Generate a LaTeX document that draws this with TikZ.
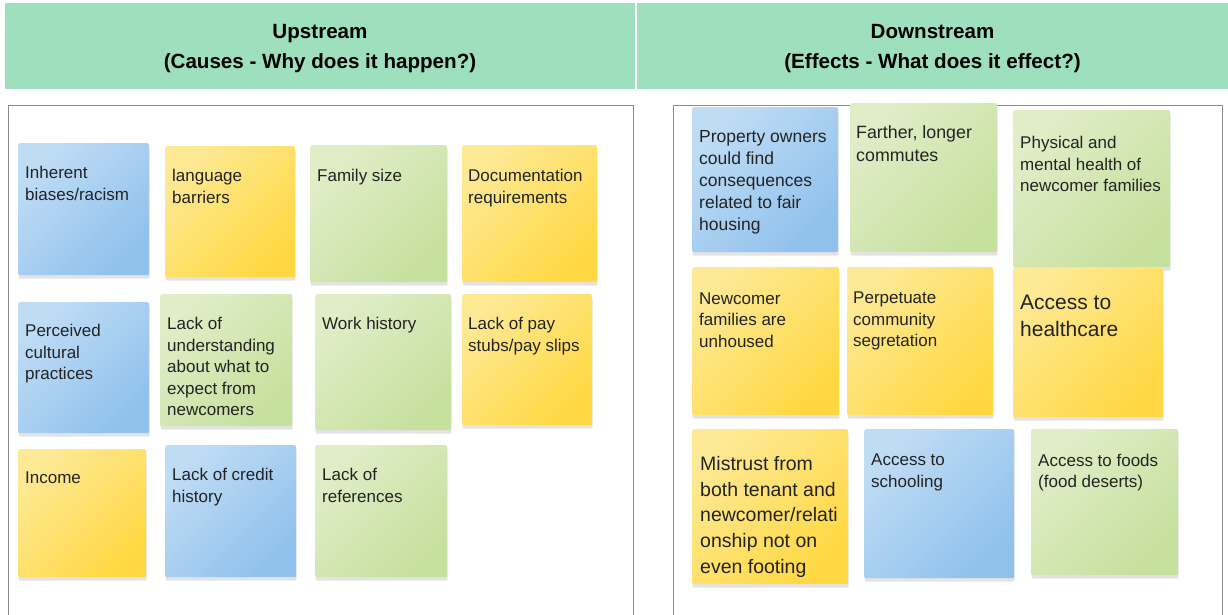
\documentclass[tikz,border=0pt]{standalone}
\usepackage{fontspec}
\setmainfont{Liberation Sans}
\usepackage{tikz}
\usetikzlibrary{positioning,shadows}
\definecolor{hdrc}{HTML}{9EDFBD}
\definecolor{framec}{HTML}{8A8A8A}
\definecolor{inkc}{HTML}{232323}
\definecolor{bluea}{HTML}{BFDCF5}
\definecolor{blueb}{HTML}{90C1EC}
\definecolor{ylwa}{HTML}{FEE994}
\definecolor{ylwb}{HTML}{FFD843}
\definecolor{grna}{HTML}{E0EDC7}
\definecolor{grnb}{HTML}{C6E09E}

\begin{document}
\begin{tikzpicture}[
  x=1pt, y=-1pt,
  hdr/.style ={fill=hdrc, inner sep=0pt, minimum height=86pt},
  hdt/.style ={align=center, inner sep=0pt, text=black,
               font=\bfseries\fontsize{20.6}{29.5}\selectfont},
  frm/.style ={draw=framec, line width=1pt},
  note/.style={anchor=north west, inner sep=0pt, rounded corners=2pt,
               drop shadow={shadow xshift=0.5pt, shadow yshift=-3.5pt, opacity=.22}},
  nb/.style  ={note, top color=bluea, bottom color=blueb, shading angle=45},
  ny/.style  ={note, top color=ylwa, bottom color=ylwb, shading angle=45},
  ng/.style  ={note, top color=grna, bottom color=grnb, shading angle=45},
  tx/.style  ={align=left, inner sep=0pt, text=inkc,
               font=\fontsize{17}{21.5}\selectfont}
]
\useasboundingbox (0,0) rectangle (1228,615);

% ---------- headers ----------
\node[hdr, minimum width=630pt] (up)   at (320,46)    {};
\node[hdr, minimum width=591pt] (down) at (932.5,46)  {};
\node[hdt] (up-t)   at ([yshift=-2.5pt]up.center)   {Upstream\\(Causes - Why does it happen?)};
\node[hdt] (down-t) at ([yshift=-2.5pt]down.center) {Downstream\\(Effects - What does it effect?)};

% ---------- frames ----------
\draw[frm] (8,630) -- (8,106) -- (633,106) -- (633,630);
\draw[frm] (673,630) -- (673,106) -- (1222,106) -- (1222,630);

% ---------- causes ----------
\node[nb, minimum width=131pt, minimum height=132pt] (inh)  at (18,143)  {};
\node[ny, minimum width=130pt, minimum height=131pt] (lang) at (165,146) {};
\node[ng, minimum width=137pt, minimum height=137pt] (fam)  at (310,145) {};
\node[ny, minimum width=135pt, minimum height=137pt] (doc)  at (462,145) {};
\node[tx, below right=23pt and 7pt of inh.north west]  (inh-t)  {Inherent\\biases/racism};
\node[tx, below right=23pt and 7pt of lang.north west] (lang-t) {language\\barriers};
\node[tx, below right=24pt and 7pt of fam.north west]  (fam-t)  {Family size};
\node[tx, below right=24pt and 6pt of doc.north west]  (doc-t)  {Documentation\\requirements};

\node[nb, minimum width=131pt, minimum height=131pt] (perc) at (18,302)  {};
\node[ng, minimum width=132pt, minimum height=132pt] (lku)  at (160,294) {};
\node[ng, minimum width=136pt, minimum height=136pt] (work) at (315,294) {};
\node[ny, minimum width=130pt, minimum height=131pt] (pay)  at (462,294) {};
\node[tx, below right=22pt and 7pt of perc.north west] (perc-t) {Perceived\\cultural\\practices};
\node[tx, below right=23pt and 7pt of lku.north west]  (lku-t)  {Lack of\\understanding\\about what to\\expect from\\newcomers};
\node[tx, below right=23pt and 7pt of work.north west] (work-t) {Work history};
\node[tx, below right=23pt and 6pt of pay.north west]  (pay-t)  {Lack of pay\\stubs/pay slips};

\node[ny, minimum width=128pt, minimum height=128pt] (inc)  at (18,449)  {};
\node[nb, minimum width=131pt, minimum height=132pt] (cred) at (165,445) {};
\node[ng, minimum width=132pt, minimum height=132pt] (refs) at (315,445) {};
\node[tx, below right=23pt and 7pt of inc.north west]  (inc-t)  {Income};
\node[tx, below right=23pt and 7pt of cred.north west] (cred-t) {Lack of credit\\history};
\node[tx, below right=23pt and 7pt of refs.north west] (refs-t) {Lack of\\references};

% ---------- effects ----------
\node[nb, minimum width=146pt, minimum height=145pt] (prop) at (692,107)  {};
\node[ng, minimum width=147pt, minimum height=149pt] (comm) at (850,103)  {};
\node[ng, minimum width=157pt, minimum height=157pt] (hlth) at (1013,110) {};
\node[tx, font=\fontsize{17.5}{22}\selectfont, below right=23.5pt and 7pt of prop.north west]
  (prop-t) {Property owners\\could find\\consequences\\related to fair\\housing};
\node[tx, font=\fontsize{17.8}{22.7}\selectfont, below right=22.5pt and 6pt of comm.north west]
  (comm-t) {Farther, longer\\commutes};
\node[tx, below right=26pt and 7pt of hlth.north west] (hlth-t) {Physical and\\mental health of\\newcomer families};

\node[ny, minimum width=147pt, minimum height=148pt] (unh)  at (692,267)  {};
\node[ny, minimum width=146pt, minimum height=148pt] (seg)  at (847,267)  {};
\node[ny, minimum width=150pt, minimum height=149pt] (care) at (1013,268) {};
\node[tx, below right=25.5pt and 7pt of unh.north west] (unh-t) {Newcomer\\families are\\unhoused};
\node[tx, below right=25pt and 6pt of seg.north west]   (seg-t) {Perpetuate\\community\\segretation};
\node[tx, font=\fontsize{21}{27.5}\selectfont, below right=26.5pt and 7pt of care.north west]
  (care-t) {Access to\\healthcare};

\node[ny, minimum width=156pt, minimum height=155pt] (mist) at (692,429)  {};
\node[nb, minimum width=150pt, minimum height=149pt] (schl) at (864,429)  {};
\node[ng, minimum width=147pt, minimum height=146pt] (food) at (1031,429) {};
\node[tx, font=\fontsize{19.5}{25.8}\selectfont, below right=27pt and 8pt of mist.north west]
  (mist-t) {Mistrust from\\both tenant and\\newcomer/relati\\onship not on\\even footing};
\node[tx, below right=25pt and 7pt of schl.north west]  (schl-t) {Access to\\schooling};
\node[tx, below right=24.5pt and 7pt of food.north west] (food-t) {Access to foods\\(food deserts)};
\end{tikzpicture}
\end{document}
